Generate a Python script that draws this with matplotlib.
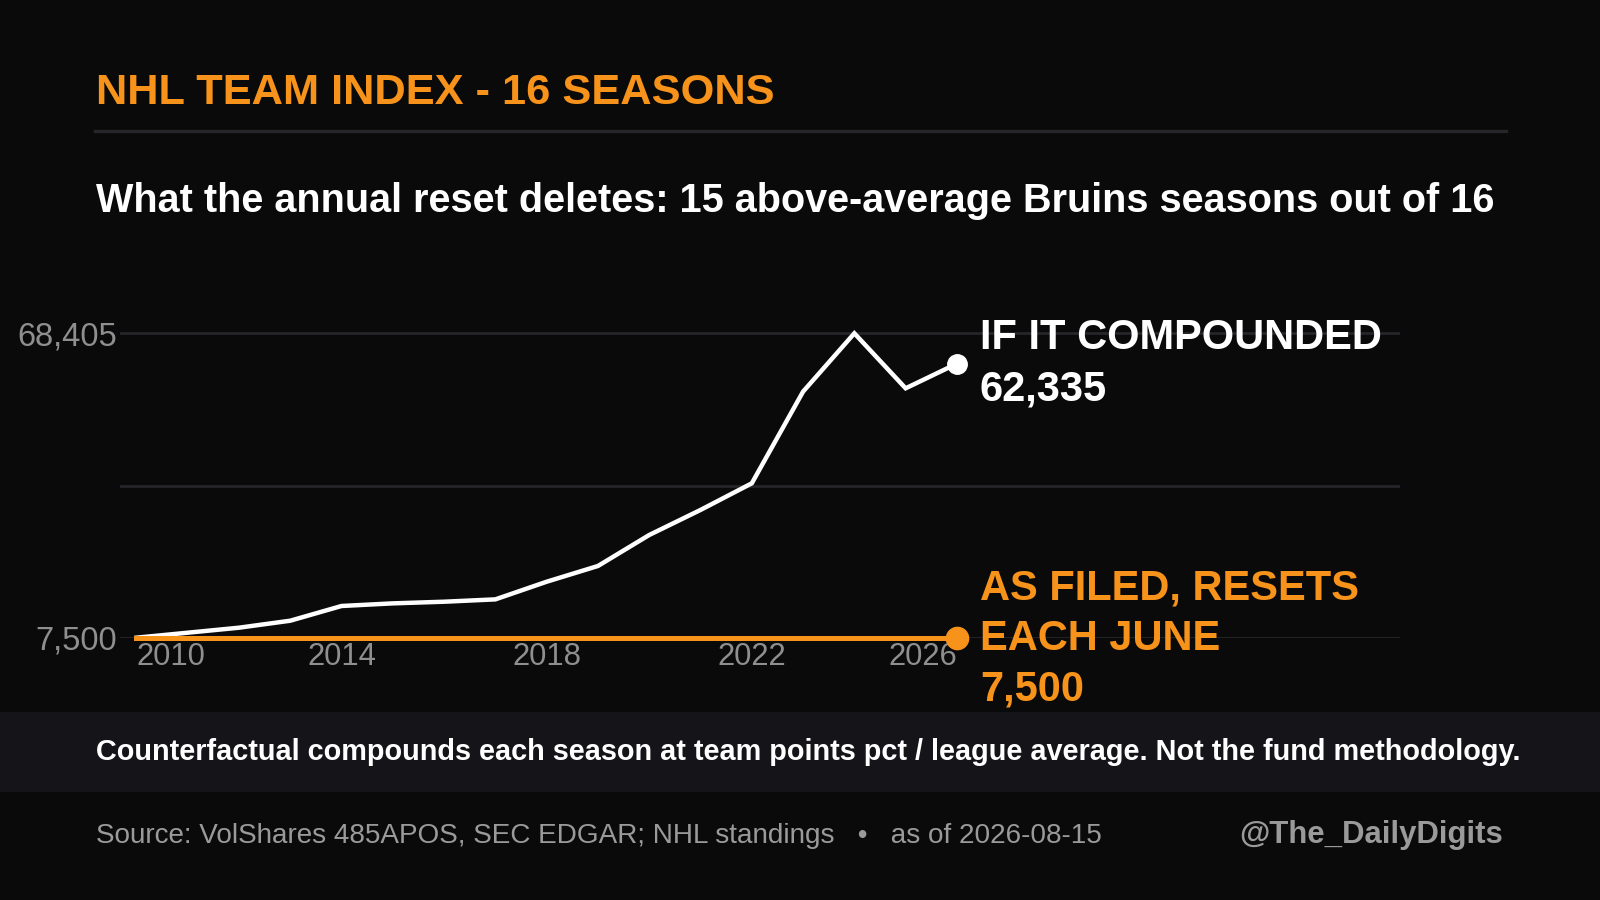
import matplotlib
matplotlib.use("Agg")
import matplotlib.pyplot as plt

# data
years = list(range(2010, 2027))
compounded = [7500, 8500, 9500, 10900, 13845, 14370, 14700, 15170, 18700,
              21850, 28050, 33060, 38390, 56740, 68405, 57400, 62335]
as_filed = [7500] * len(years)
y_min, y_max = 7500, 68405
x_tick_years = [2010, 2014, 2018, 2022, 2026]

BG = "#0a0a0a"
ORANGE = "#f7931a"
GRID = "#26262a"
GRAY = "#8f8f8f"

plt.rcParams["font.family"] = ["Liberation Sans", "DejaVu Sans"]

fig = plt.figure(figsize=(16, 9), dpi=100, facecolor=BG)

# chart area
ax = fig.add_axes([0.075, 1 - 637.7 / 900, 0.8, (637.7 - 300) / 900])
ax.set_facecolor("none")
ax.set_xlim(2009.68, 2034.64)
ax.set_ylim(y_min, y_max + 0.1094 * (y_max - y_min))

mid = (y_min + y_max) / 2
ax.set_yticks([y_min, mid, y_max])
ax.set_yticklabels([f"{y_min:,}", "", f"{y_max:,}"])
ax.grid(axis="y", color=GRID, linewidth=2)
ax.tick_params(axis="y", length=0, pad=2, labelsize=23.5, labelcolor=GRAY)

ax.set_xticks(x_tick_years)
ax.set_xticklabels([str(y) for y in x_tick_years])
ax.tick_params(axis="x", length=0, pad=3, labelsize=22.3, labelcolor=GRAY)
labels = ax.get_xticklabels()
labels[0].set_ha("left")
labels[-1].set_ha("right")
for s in ax.spines.values():
    s.set_visible(False)

ax.plot(years, compounded, color="white", lw=3.2, clip_on=False, zorder=3,
        solid_joinstyle="miter")
ax.plot(years, as_filed, color=ORANGE, lw=3.6, clip_on=False, zorder=4)
ax.plot(years[-1], compounded[-1], "o", color="white", ms=14, clip_on=False, zorder=5)
ax.plot(years[-1], as_filed[-1], "o", color=ORANGE, ms=16, clip_on=False, zorder=5)

ax.annotate(f"IF IT COMPOUNDED\n{compounded[-1]:,}", (years[-1], compounded[-1]),
            xytext=(16.5, 0), textcoords="offset points", ha="left", va="center",
            fontsize=30, fontweight="bold", color="white", linespacing=1.36,
            annotation_clip=False)
ax.annotate(f"AS FILED, RESETS\nEACH JUNE\n{as_filed[-1]:,}", (years[-1], as_filed[-1]),
            xytext=(16.5, -1), textcoords="offset points", ha="left", va="center",
            fontsize=30, fontweight="bold", color=ORANGE, linespacing=1.34,
            annotation_clip=False)

# header
fig.text(96 / 1600, 1 - 104 / 900, "NHL TEAM INDEX - 16 SEASONS", color=ORANGE,
         fontsize=31.2, fontweight="bold", va="baseline")
fig.add_artist(plt.Line2D([95 / 1600, 1506 / 1600], [1 - 131 / 900] * 2,
                          color=GRID, lw=2.4))
fig.text(96 / 1600, 1 - 211.7 / 900,
         "What the annual reset deletes: 15 above-average Bruins seasons out of 16",
         color="white", fontsize=28.5, fontweight="bold", va="baseline")

# footnote band
fig.add_artist(plt.Rectangle((0, 1 - 792 / 900), 1, 80 / 900, color="#141419", lw=0))
fig.text(96 / 1600, 1 - 760 / 900,
         "Counterfactual compounds each season at team points pct / league average. "
         "Not the fund methodology.",
         color="white", fontsize=20.8, fontweight="bold", va="baseline")

fig.text(96 / 1600, 1 - 843 / 900,
         "Source: VolShares 485APOS, SEC EDGAR; NHL standings   \u2022   as of 2026-08-15",
         color="#9a9a9a", fontsize=20.1, va="baseline")
fig.text(1503 / 1600, 1 - 843 / 900, "@The_DailyDigits", color="#9a9a9a",
         fontsize=22.4, fontweight="bold", ha="right", va="baseline")

fig.savefig("out.png", dpi=100, facecolor=BG)
